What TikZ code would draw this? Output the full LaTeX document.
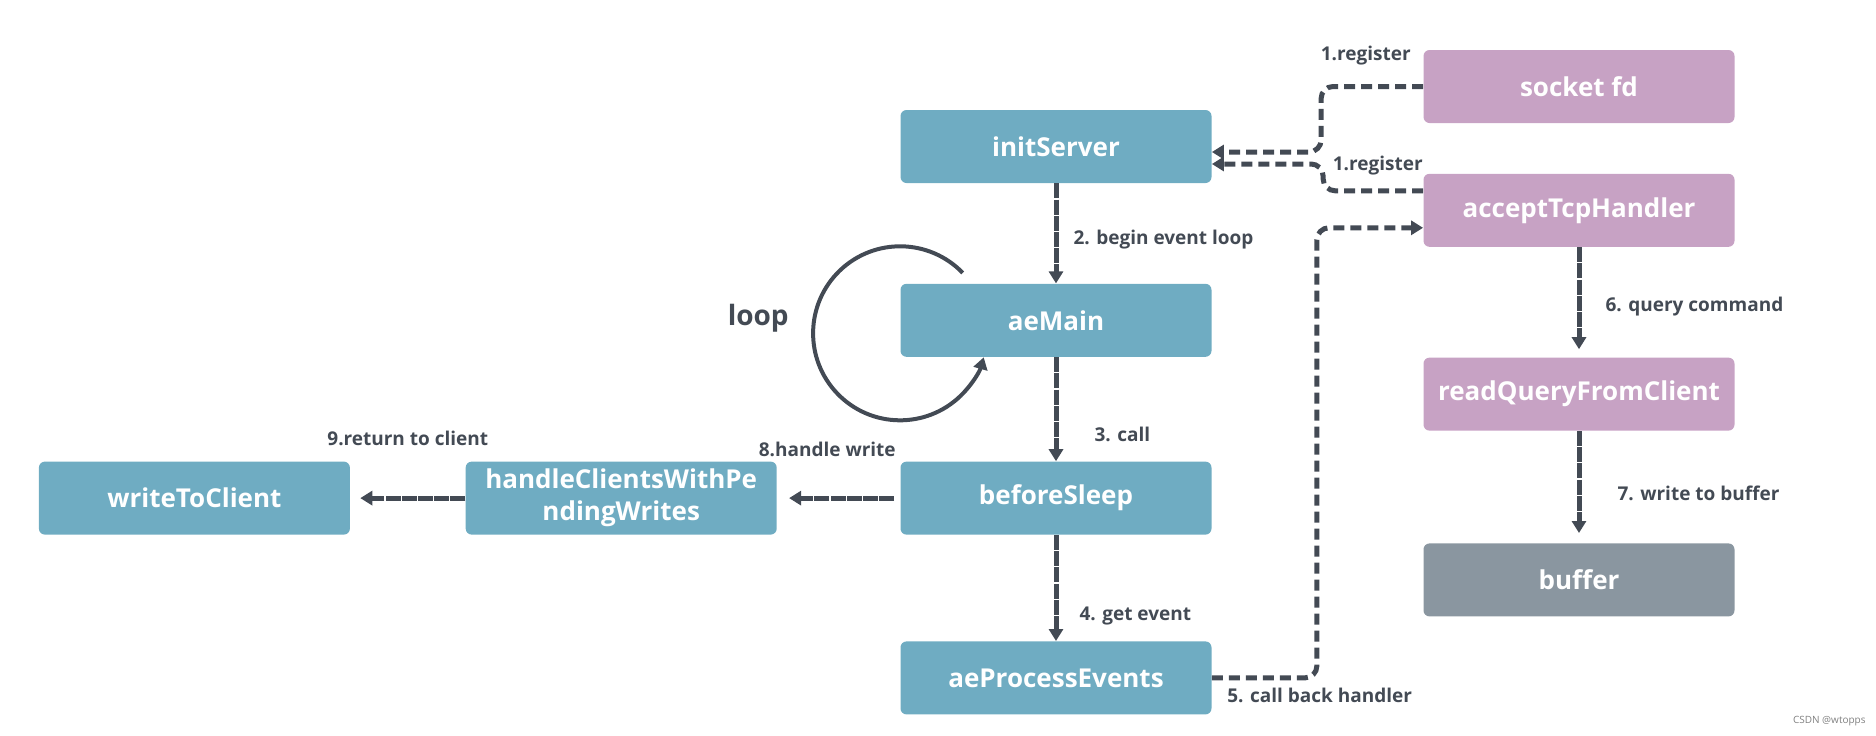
\documentclass[tikz,border=0pt]{standalone}
\usepackage{fontspec}
\setmainfont{Open Sans}
\usetikzlibrary{positioning, arrows.meta}

\definecolor{evblue}{HTML}{6FACC2}
\definecolor{hdpink}{HTML}{C7A2C4}
\definecolor{bufgray}{HTML}{8A96A0}
\definecolor{linegray}{HTML}{434A54}

\tikzset{
  box/.style={rectangle, rounded corners=3pt, minimum width=155.5pt, minimum height=36.5pt,
    inner sep=2pt, align=center, text=white, font=\bfseries\fontsize{13}{16}\selectfont},
  event/.style={box, fill=evblue},
  handler/.style={box, fill=hdpink},
  store/.style={box, fill=bufgray},
  flow/.style={draw=linegray, line width=2.5pt, dash pattern=on 7.5pt off 0.6pt,
    -{Triangle[length=6pt,width=7pt]}},
  callback/.style={flow, dash pattern=on 5.5pt off 3pt, rounded corners=6pt},
  steplabel/.style={inner sep=0pt, text=linegray, font=\bfseries\fontsize{9.5}{11}\selectfont},
}

\begin{document}
\begin{tikzpicture}
\useasboundingbox (0,0) rectangle (938pt,-367.5pt);

% Event loop
\node[event] (initServer) at (528pt,-73.25pt) {initServer};
\node[event, below=50pt of initServer] (aeMain) {aeMain};
\node[event, below=52pt of aeMain] (beforeSleep) {beforeSleep};
\node[event, below=53pt of beforeSleep] (aeProcessEvents) {aeProcessEvents};

% Write side
\node[event, left=61.5pt of beforeSleep] (handleClients) {handleClientsWithPe\\ndingWrites};
\node[event, left=57.5pt of handleClients] (writeToClient) {writeToClient};

% Handlers
\node[handler] (socketFd) at (789.5pt,-43.25pt) {socket fd};
\node[handler, below=25pt of socketFd] (acceptTcp) {acceptTcpHandler};
\node[handler, below=55pt of acceptTcp] (readQuery) {readQueryFromClient};
\node[store, below=56pt of readQuery] (buffer) {buffer};

% Register
\draw[callback] (socketFd.west) -- ++(-51pt,0) |- ([yshift=-2.75pt]initServer.east);
\draw[callback] ([yshift=9.75pt]acceptTcp.west) -- ++(-50pt,0) |- ([yshift=-8.75pt]initServer.east);
\node[steplabel, anchor=south east] (reg1) at ([xshift=-6pt,yshift=10.5pt]socketFd.west) {1.register};
\node[steplabel, anchor=south east] (reg2) at ([yshift=-1pt]acceptTcp.north west) {1.register};

% Main flow
\draw[flow] (initServer) -- (aeMain) node[steplabel, right=7.5pt, pos=0.56] (lbl2) {2. begin event loop};
\draw[flow] (aeMain) -- (beforeSleep) node[steplabel, right=18pt, pos=0.74] (lbl3) {3. call};
\draw[flow] (beforeSleep) -- (aeProcessEvents) node[steplabel, right=10.5pt, pos=0.76] (lbl4) {4. get event};
\draw[callback] (aeProcessEvents.east) -- ++(52.5pt,0) |- ([yshift=-8.75pt]acceptTcp.west);
\node[steplabel, anchor=north west] (lbl5) at ([xshift=7.5pt,yshift=-5pt]aeProcessEvents.east) {5. call back handler};

% Read
\draw[flow, shorten >=4pt] (acceptTcp) -- (readQuery) node[steplabel, right=12pt, pos=0.54] (lbl6) {6. query command};
\draw[flow, shorten >=5pt] (readQuery) -- (buffer) node[steplabel, right=18pt, pos=0.56] (lbl7) {7. write to buffer};

% Write
\draw[flow, shorten <=3pt, shorten >=6pt] (beforeSleep) -- (handleClients);
\node[steplabel, anchor=south east] (lbl8) at ([xshift=-2pt,yshift=2pt]beforeSleep.north west) {8.handle write};
\draw[flow, shorten >=5pt] (handleClients) -- (writeToClient) node[steplabel, midway, above=25pt] (lbl9) {9.return to client};

% Loop
\draw[linegray, line width=2pt, -{Triangle[length=6pt,width=7pt]}]
  ([yshift=-6.5pt]aeMain.west) ++(44:43.5pt) arc[start angle=44, end angle=344, radius=43.5pt];
\node[text=linegray, font=\bfseries\fontsize{14}{16}\selectfont, anchor=east, inner sep=0pt] (loopLbl)
  at ([xshift=-55.5pt,yshift=1pt]aeMain.west) {loop};

\node[anchor=east, inner sep=0pt, text=gray, font=\fontsize{5}{6}\selectfont] (mark) at (933pt,-360.5pt) {CSDN @wtopps};
\end{tikzpicture}
\end{document}
